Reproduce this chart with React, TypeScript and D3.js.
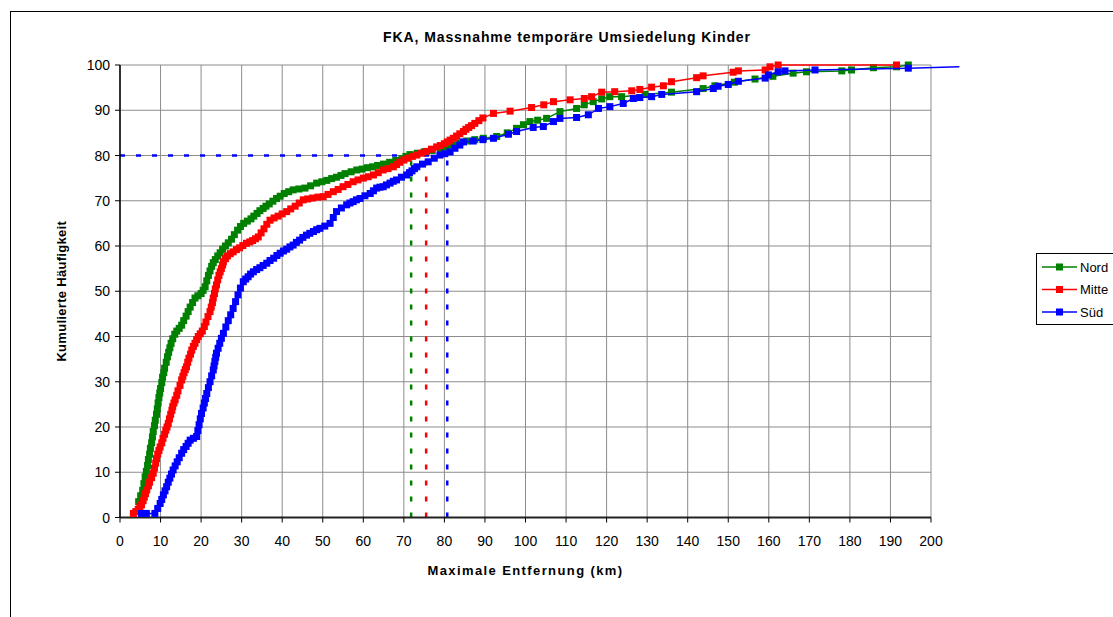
import React from "react";
import * as d3 from "d3";

const title = "FKA, Massnahme temporäre Umsiedelung Kinder";
const xTitle = "Maximale Entfernung (km)";
const yTitle = "Kumulierte Häufigkeit";
const seriesNames = ["Nord", "Mitte", "Süd"];
const seriesColors = ["#008000", "#FF0000", "#0000FF"];
const xTickValues = [0, 10, 20, 30, 40, 50, 60, 70, 80, 90, 100, 110, 120, 130, 140, 150, 160, 170, 180, 190, 200];
const yTickValues = [0, 10, 20, 30, 40, 50, 60, 70, 80, 90, 100];

// [km, cumulative %]
const nord: [number, number][] = [
  [4.6, 3.5], [5.1, 4.8], [5.6, 6], [5.9, 7.5], [6.2, 9], [6.5, 10.2], [6.8, 11.5], [7.0, 12.8], [7.3, 14], [7.5, 15.3],
  [7.8, 16.5], [8.0, 17.8], [8.2, 19], [8.5, 20.3], [8.7, 21.5], [9.0, 22.8], [9.2, 24], [9.4, 25.3], [9.6, 26.5], [9.8, 27.5],
  [10.0, 28.5], [10.3, 29.8], [10.5, 31], [10.8, 32], [11.0, 33], [11.4, 34.3], [11.7, 35.5], [12.0, 36.5], [12.3, 37.5],
  [12.6, 38.5], [13.0, 39.5], [13.5, 40.5], [14.0, 41.2], [14.6, 41.8], [15.2, 42.5], [15.7, 43.5], [16.3, 44.5], [16.8, 45.5],
  [17.3, 46.5], [17.9, 47.5], [18.5, 48.5], [19.2, 49], [20.0, 49.5], [20.5, 50.2], [21.0, 51], [21.4, 52.3], [21.8, 53.5],
  [22.2, 54.5], [22.6, 55.5], [23.0, 56.3], [23.5, 57], [24.1, 57.8], [24.7, 58.5], [25.3, 59.3], [26.0, 60], [26.7, 60.7],
  [27.5, 61.5], [28.2, 62.5], [29.0, 63.5], [29.7, 64.3], [30.5, 65], [31.4, 65.5], [32.3, 66], [33.0, 66.6], [33.8, 67.2],
  [34.5, 67.8], [35.3, 68.3], [36.0, 68.8], [36.8, 69.3], [37.7, 69.9], [38.6, 70.5], [39.5, 71], [40.5, 71.6], [41.6, 72],
  [42.7, 72.4], [44.1, 72.6], [45.6, 72.8], [47.0, 73.3], [48.5, 73.9], [49.8, 74.2], [51.0, 74.5], [52.2, 74.9], [53.4, 75.2],
  [54.5, 75.6], [55.5, 76], [57.0, 76.4], [58.4, 76.8], [59.7, 77], [61.0, 77.3], [62.3, 77.5], [63.5, 77.8], [65.0, 78.1],
  [66.5, 78.5], [68.0, 78.9], [69.5, 79.3], [70.5, 79.8], [71.5, 80.2], [73.3, 80.5], [75.0, 80.8], [77.0, 81.1], [79.0, 81.5],
  [80.5, 81.9], [82.0, 82.3], [83.8, 82.8], [85.5, 83.2], [87.5, 83.5], [89.6, 83.8], [92.9, 84.2], [95.5, 85], [97.8, 86],
  [99.5, 86.8], [101.1, 87.5], [103.0, 87.8], [105.2, 88.2], [108.5, 89.7], [112.6, 90.4], [114.5, 91.2], [116.7, 91.9],
  [118.8, 92.5], [120.8, 93], [123.7, 93], [129.5, 93.5], [136.0, 94], [143.8, 94.8], [146.7, 95.4], [151.5, 96.2],
  [156.6, 96.9], [161.0, 97.5], [166.0, 98.2], [169.3, 98.5], [178.0, 98.7], [180.4, 98.9], [185.8, 99.4], [191.5, 99.6], [194.4, 100],
];

const mitte: [number, number][] = [
  [3.3, 0.9], [3.9, 1.3], [4.5, 1.8], [4.9, 2.3], [5.3, 2.8], [5.7, 3.7], [6.0, 4.5], [6.3, 5.3], [6.6, 6.1], [7.0, 7],
  [7.3, 7.8], [7.8, 8.8], [8.2, 9.8], [8.5, 10.9], [8.8, 12], [9.0, 13], [9.3, 14], [9.6, 14.8], [9.9, 15.6], [10.3, 16.5],
  [10.6, 17.5], [11.0, 18.4], [11.3, 19.3], [11.6, 20], [11.9, 20.8], [12.2, 21.8], [12.5, 22.8], [12.8, 23.7], [13.0, 24.5],
  [13.3, 25.3], [13.6, 26], [14.0, 27], [14.3, 28], [14.8, 29.2], [15.2, 30.4], [15.5, 31.2], [15.8, 32], [16.1, 32.7],
  [16.4, 33.3], [16.7, 34.3], [17.0, 35.2], [17.4, 36.1], [17.7, 37], [18.1, 37.8], [18.5, 38.5], [18.9, 39.3], [19.3, 40],
  [19.8, 40.6], [20.3, 41.2], [20.8, 42.2], [21.2, 43.2], [21.7, 44.4], [22.2, 45.5], [22.5, 46.5], [22.8, 47.5], [23.0, 48.5],
  [23.3, 49.5], [23.5, 50.5], [23.8, 51.4], [24.1, 52.5], [24.4, 53.5], [24.7, 54.3], [25.0, 55], [25.3, 55.8], [25.5, 56.5],
  [26.0, 57.2], [26.5, 57.8], [27.2, 58.3], [27.9, 58.7], [28.7, 59.2], [29.5, 59.6], [30.3, 60.1], [31.2, 60.6], [32.0, 60.9],
  [32.7, 61.2], [33.4, 61.6], [34.1, 62], [34.8, 62.9], [35.5, 63.8], [36.2, 64.8], [37.0, 65.7], [38.0, 66.2], [39.0, 66.6],
  [40.0, 67.1], [41.1, 67.6], [42.1, 68.2], [43.2, 68.8], [44.2, 69.5], [45.2, 70.2], [46.3, 70.4], [47.5, 70.6], [48.8, 70.8],
  [50.1, 70.9], [51.3, 71.4], [52.6, 72], [53.8, 72.5], [55.0, 73.1], [56.2, 73.6], [57.5, 74.2], [58.7, 74.6], [60.0, 75],
  [61.2, 75.3], [62.5, 75.7], [63.7, 76.2], [64.9, 76.8], [66.1, 77.1], [67.4, 77.5], [68.2, 78], [69.0, 78.5], [70.0, 79],
  [71.0, 79.4], [72.1, 79.8], [73.2, 80.1], [74.3, 80.5], [75.5, 80.9], [76.8, 81.4], [78.1, 81.9], [79.0, 82.2], [80.0, 82.6],
  [80.7, 83], [81.4, 83.4], [82.2, 83.8], [83.0, 84.3], [83.8, 84.8], [84.7, 85.3], [85.3, 85.8], [86.0, 86.2], [86.7, 86.6],
  [87.5, 87.1], [88.5, 87.7], [89.5, 88.3], [92.1, 89.3], [96.2, 89.8], [101.5, 90.6], [104.5, 91.2], [106.9, 91.9], [111.0, 92.3],
  [114.5, 92.6], [116.3, 93], [118.8, 94], [122.0, 94.1], [126.2, 94.3], [128.2, 94.6], [131.1, 95.1], [134.0, 95.4], [136.0, 96.3],
  [142.2, 97.2], [143.8, 97.6], [151.2, 98.4], [152.5, 98.7], [159.1, 98.9], [160.3, 99.6], [162.3, 100], [191.5, 100],
];

const sued: [number, number][] = [
  [5.3, 0.9], [6.5, 0.9], [8.6, 0.9], [9.3, 2], [9.9, 3.1], [10.3, 4], [10.7, 5], [11.1, 5.9], [11.5, 6.8], [11.9, 7.8],
  [12.3, 8.7], [12.7, 9.6], [13.1, 10.5], [13.6, 11.4], [14.1, 12.3], [14.6, 13.2], [15.2, 14.2], [15.7, 15], [16.3, 15.7],
  [16.8, 16.4], [17.3, 17.1], [18.1, 17.5], [18.9, 17.9], [19.2, 19.2], [19.5, 20.5], [19.8, 21.8], [20.1, 23], [20.5, 24.2],
  [20.8, 25.3], [21.1, 26.3], [21.4, 27.4], [21.8, 28.7], [22.2, 30], [22.6, 31.3], [23.0, 32.6], [23.2, 33.5], [23.4, 34.5],
  [23.6, 35.4], [23.8, 36.3], [24.2, 37.4], [24.6, 38.5], [25.0, 39.6], [25.5, 40.7], [26.1, 42.1], [26.7, 43.5], [27.3, 44.8],
  [27.9, 46.2], [28.5, 47.7], [29.1, 49.2], [29.7, 50.7], [30.4, 52.1], [31.0, 52.7], [31.6, 53.2], [32.2, 53.8], [32.9, 54.3],
  [33.7, 54.8], [34.5, 55.2], [35.3, 55.7], [36.2, 56.2], [37.0, 56.8], [37.9, 57.3], [38.7, 57.9], [39.5, 58.4], [40.3, 58.9],
  [41.1, 59.3], [41.9, 59.8], [42.7, 60.2], [43.5, 60.8], [44.3, 61.3], [45.1, 61.9], [46.0, 62.4], [46.8, 62.8], [47.7, 63.2],
  [48.5, 63.6], [49.3, 63.9], [50.5, 64.4], [51.8, 65], [52.6, 66.3], [53.4, 67.6], [54.6, 68.4], [55.9, 69.1], [56.7, 69.5],
  [57.5, 69.8], [58.3, 70.2], [59.2, 70.5], [60.4, 71.1], [61.7, 71.6], [62.5, 72.2], [63.3, 72.8], [64.1, 73], [64.9, 73.1],
  [65.7, 73.5], [66.6, 73.9], [67.4, 74.3], [68.2, 74.6], [69.4, 75.2], [70.7, 75.7], [71.4, 76.2], [72.0, 76.6], [72.6, 77.1],
  [73.2, 77.5], [74.6, 78.1], [76.0, 78.6], [77.5, 79.4], [78.9, 80.1], [80.1, 80.4], [81.4, 80.8], [82.6, 81.6], [83.8, 82.3],
  [84.7, 83], [87.1, 83.2], [89.5, 83.5], [92.1, 83.8], [95.8, 84.7], [97.8, 85.3], [101.9, 86.2], [104.4, 86.4], [106.9, 87.5],
  [108.5, 88.2], [112.6, 88.4], [115.5, 89], [118.0, 90.4], [120.8, 90.8], [124.1, 91.5], [126.6, 92.6], [128.2, 92.8],
  [131.1, 93], [133.6, 93.5], [142.2, 94.1], [146.3, 94.8], [147.5, 95.3], [150.0, 95.7], [152.5, 96.4], [159.1, 97.1],
  [159.9, 97.8], [162.3, 98.5], [164.0, 98.7], [171.4, 98.9], [194.4, 99.3], [207.0, 99.6],
];

const allSeries = [nord, mitte, sued];
const referenceLevel = 80;
const referenceKm = [71.8, 75.5, 80.7];

const W = 1113;
const H = 617;
const plot = { left: 120, right: 931, top: 65, bottom: 517.5 };
const font = "Liberation Sans, Arial, sans-serif";

export default function App() {
  const x = d3.scaleLinear().domain([0, 200]).range([plot.left, plot.right]);
  const y = d3.scaleLinear().domain([0, 100]).range([plot.bottom, plot.top]);
  const line = d3.line<[number, number]>().x((d) => x(d[0])).y((d) => y(d[1]));
  const ms = 7;

  return (
    <svg width={W} height={H} style={{ position: "absolute", left: 0, top: 0, background: "#fff" }} fontFamily={font}>
      <rect x={10.5} y={11.5} width={W + 20} height={H + 20} fill="#fff" stroke="#000" strokeWidth={1} />
      <text x={567} y={42} textAnchor="middle" fontWeight="bold" fontSize={14} letterSpacing={0.9}>{title}</text>

      {/* grid */}
      {xTickValues.map((v) => (
        <line key={"gx" + v} x1={x(v)} x2={x(v)} y1={plot.top} y2={plot.bottom} stroke="#8c8c8c" strokeWidth={1} />
      ))}
      {yTickValues.map((v) => (
        <line key={"gy" + v} x1={plot.left} x2={plot.right} y1={y(v)} y2={y(v)} stroke="#8c8c8c" strokeWidth={1} />
      ))}

      {/* reference lines */}
      <line x1={x(0)} x2={x(referenceKm[2])} y1={y(referenceLevel)} y2={y(referenceLevel)} stroke={seriesColors[2]} strokeWidth={2.5} strokeDasharray="5,11" />
      {referenceKm.map((k, i) => (
        <line key={"rv" + i} x1={x(k)} x2={x(k)} y1={y(0)} y2={y(referenceLevel)} stroke={seriesColors[i]} strokeWidth={2.5} strokeDasharray="5,11" />
      ))}

      {/* axes */}
      <line x1={plot.left} x2={plot.left} y1={plot.top} y2={plot.bottom} stroke="#000" strokeWidth={1.5} />
      <line x1={plot.left} x2={plot.right} y1={plot.bottom} y2={plot.bottom} stroke="#222" strokeWidth={2} />
      {xTickValues.map((v) => (
        <g key={"tx" + v}>
          <line x1={x(v)} x2={x(v)} y1={plot.bottom} y2={plot.bottom + 5} stroke="#000" />
          <text x={x(v)} y={plot.bottom + 28} textAnchor="middle" fontSize={14}>{v}</text>
        </g>
      ))}
      {yTickValues.map((v) => (
        <g key={"ty" + v}>
          <line x1={plot.left - 5} x2={plot.left} y1={y(v)} y2={y(v)} stroke="#000" />
          <text x={plot.left - 10} y={y(v) + 5} textAnchor="end" fontSize={14}>{v}</text>
        </g>
      ))}

      {/* series */}
      {allSeries.map((s, i) => (
        <g key={"s" + i}>
          <path d={line(s) || ""} fill="none" stroke={seriesColors[i]} strokeWidth={1.5} />
          {s.filter((d) => d[0] <= 200).map((d, j) => (
            <rect key={j} x={x(d[0]) - ms / 2} y={y(d[1]) - ms / 2} width={ms} height={ms} fill={seriesColors[i]} />
          ))}
        </g>
      ))}

      <text x={(plot.left + plot.right) / 2} y={575} textAnchor="middle" fontWeight="bold" fontSize={13} letterSpacing={1.4}>{xTitle}</text>
      <text transform={`translate(66, ${(plot.top + plot.bottom) / 2}) rotate(-90)`} textAnchor="middle" fontWeight="bold" fontSize={13} letterSpacing={0.3}>{yTitle}</text>

      {/* legend */}
      <rect x={1036.5} y={253.5} width={120} height={71} fill="#fff" stroke="#000" strokeWidth={1} />
      {seriesNames.map((n, i) => (
        <g key={"l" + i}>
          <line x1={1042} x2={1077} y1={267 + i * 22.5} y2={267 + i * 22.5} stroke={seriesColors[i]} strokeWidth={1.5} />
          <rect x={1059.5 - ms / 2} y={267 + i * 22.5 - ms / 2} width={ms} height={ms} fill={seriesColors[i]} />
          <text x={1080} y={267 + i * 22.5 + 4.5} fontSize={13}>{n}</text>
        </g>
      ))}
    </svg>
  );
}
